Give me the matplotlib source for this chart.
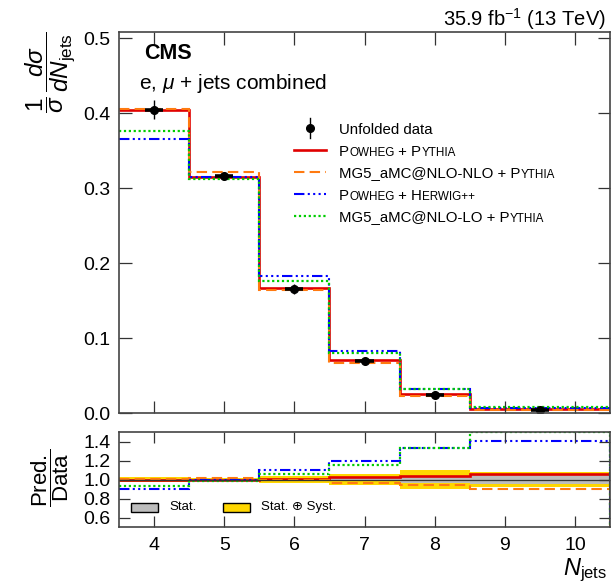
import numpy as np
import matplotlib
matplotlib.use("Agg")
import matplotlib.pyplot as plt
from matplotlib.patches import Rectangle

plt.rcParams['font.family'] = ['Liberation Sans', 'DejaVu Sans']
plt.rcParams['mathtext.fontset'] = 'custom'
plt.rcParams['mathtext.rm'] = 'Liberation Sans'
plt.rcParams['mathtext.it'] = 'Liberation Sans:italic'
plt.rcParams['mathtext.bf'] = 'Liberation Sans:bold'
plt.rcParams['mathtext.sf'] = 'Liberation Sans'

# ---------------- data ----------------
bin_edges = [3.5, 4.5, 5.5, 6.5, 7.5, 8.5, 10.5]
bin_centers = [4, 5, 6, 7, 8, 9.5]
data = [0.405, 0.317, 0.166, 0.0695, 0.0245, 0.0050]
stat_rel = [0.008, 0.006, 0.010, 0.015, 0.040, 0.045]
tot_rel = [0.030, 0.015, 0.040, 0.060, 0.100, 0.080]

powheg_pythia = [0.405, 0.3155, 0.167, 0.0712, 0.0255, 0.0053]
mg5_nlo_pythia = [0.4057, 0.3215, 0.165, 0.0667, 0.0232, 0.0045]
powheg_herwig = [0.3657, 0.3145, 0.1826, 0.0827, 0.0326, 0.00705]
mg5_lo_pythia = [0.3765, 0.312, 0.176, 0.0800, 0.0326, 0.0080]

xticks = [4, 5, 6, 7, 8, 9, 10]
main_yticks = [0.0, 0.1, 0.2, 0.3, 0.4, 0.5]
ratio_yticks = [0.6, 0.8, 1.0, 1.2, 1.4]

RED = '#e00000'
ORANGE = '#ff7a10'
BLUE = '#0000ff'
GREEN = '#00cc00'
YELLOW = '#ffd700'
GRAY = '#bdbdbd'

models = [
    (powheg_pythia, RED, '-', 1.9),
    (mg5_nlo_pythia, ORANGE, (0, (5, 2.5)), 1.5),
    (powheg_herwig, BLUE, (0, (5, 1.6, 1, 1.6, 1, 1.6, 1, 1.6)), 1.5),
    (mg5_lo_pythia, GREEN, (0, (1, 1.2)), 1.6),
]

W, H = 611, 586
fig = plt.figure(figsize=(W / 100, H / 100), dpi=100)
L, R = 119, 610
ax = fig.add_axes([L / W, 1 - 413.3 / H, (R - L) / W, (413.3 - 32) / H])
rax = fig.add_axes([L / W, 1 - 527 / H, (R - L) / W, (527 - 432) / H])

edges = np.array(bin_edges)
edges_ext = np.append(edges, edges[-1] + 1.0)   # histogram drops to zero after last edge
d = np.array(data)

# ---------------- main panel ----------------
for vals, c, ls, lw in models:
    ax.stairs(np.append(vals, 0.0), edges_ext, baseline=None, color=c, linestyle=ls, linewidth=lw)

err = d * np.array(tot_rel)
ax.errorbar(bin_centers, d, yerr=err, fmt='none', ecolor='black', elinewidth=1.0, capsize=0, zorder=5)
ax.hlines(d, np.array(bin_centers) - 0.13, np.array(bin_centers) + 0.13, color='black', lw=2.6, zorder=5)
ax.plot(bin_centers, d, 'o', color='black', ms=5.5, zorder=6)

ax.set_xlim(3.5, 10.5)
ax.set_ylim(0, 0.5084)
ax.set_xticks(xticks)
ax.set_xticklabels([])
ax.set_yticks(main_yticks)
ax.set_yticklabels([f"{t:.1f}" for t in main_yticks])

# ---------------- ratio panel ----------------
tot = np.array(tot_rel)
st = np.array(stat_rel)
rax.stairs(1 + tot, edges, baseline=1 - tot, fill=True, color=YELLOW, lw=0)
rax.stairs(1 + st, edges, baseline=1 - st, fill=True, color=GRAY, lw=0)
rax.axhline(1.0, color='#333333', lw=0.9)
for vals, c, ls, lw in models:
    r = np.array(vals) / d
    r = np.minimum(r, 1.5)
    rax.stairs(np.append(r, 0.0), edges_ext, baseline=None, color=c, linestyle=ls, linewidth=lw)

rax.set_xlim(3.5, 10.5)
rax.set_ylim(0.5, 1.5)
rax.set_xticks(xticks)
rax.set_xticklabels([str(t) for t in xticks])
rax.set_yticks(ratio_yticks)
rax.set_yticklabels([f"{t:.1f}" for t in ratio_yticks])

for a, tl in ((ax, 9), (rax, 8)):
    a.tick_params(direction='in', top=True, right=True, length=tl, width=0.9,
                  labelsize=14, pad=6, color='#333333')
    for s in a.spines.values():
        s.set_color('#444444')
        s.set_linewidth(1.2)
        s.set_zorder(10)
rax.tick_params(axis='x', pad=7)

# ---------------- texts ----------------
ax.text(0.051, 0.929, 'CMS', transform=ax.transAxes, fontsize=15.5, fontweight='bold', va='baseline')
ax.text(0.040, 0.8505, r'e, $\mu$ + jets combined', transform=ax.transAxes, fontsize=15, va='baseline')
fig.text(606 / W, 1 - 26 / H, r'35.9 fb$^{-1}$ (13 TeV)', fontsize=14.5, ha='right', va='baseline')

fig.text(50 / W, 1 - 32 / H, r'$\dfrac{1}{\sigma}\,\dfrac{d\sigma}{dN_{\mathrm{jets}}}$',
         rotation=90, ha='center', va='top', fontsize=17.5)
fig.text(50 / W, 1 - 478 / H, r'$\dfrac{\mathrm{Pred.}}{\mathrm{Data}}$',
         rotation=90, ha='center', va='center', fontsize=16)
fig.text(607 / W, 1 - 570 / H, r'$N_{\mathrm{jets}}$', ha='right', va='center', fontsize=17)

# ---------------- legend (main) ----------------
LEG_FS = 10.8
SC_FS = 8.4

def px2ax(px, py):
    return (px - L) / (R - L), (413.3 - py) / (413.3 - 32)

def sc_text(axis, x, yb, parts):
    """Small-caps style text: segments share one baseline (yb, axes fraction)."""
    first, _ = parts[0]
    t = axis.text(x, yb, first, transform=axis.transAxes, fontsize=LEG_FS, va='baseline', ha='left')
    prev = t
    for s, sm in parts[1:]:
        prev = axis.annotate(s, xy=(1, yb), xycoords=(prev, 'axes fraction'),
                             va='baseline', ha='left', fontsize=SC_FS if sm else LEG_FS)
    return t

rows_y = [128, 150, 172, 194, 216]
hx0, hx1 = px2ax(294, 0)[0], px2ax(326, 0)[0]
tx = px2ax(339, 0)[0]
base_off = 5.5  # px from row centre down to text baseline

y0 = px2ax(0, rows_y[0])[1]
ax.plot([(hx0 + hx1) / 2], [y0], 'o', color='black', ms=5.5, transform=ax.transAxes, clip_on=False)
ax.plot([(hx0 + hx1) / 2] * 2, [y0 - 0.025, y0 + 0.025], color='black', lw=1, transform=ax.transAxes)
ax.text(tx, px2ax(0, rows_y[0] + base_off)[1], 'Unfolded data', transform=ax.transAxes,
        fontsize=LEG_FS, va='baseline')

labels = [
    [('P', False), ('OWHEG', True), (' + P', False), ('YTHIA', True)],
    [('MG5_aMC@NLO-NLO + P', False), ('YTHIA', True)],
    [('P', False), ('OWHEG', True), (' + H', False), ('ERWIG++', True)],
    [('MG5_aMC@NLO-LO + P', False), ('YTHIA', True)],
]
for (vals, c, ls, lw), lab, ry in zip(models, labels, rows_y[1:]):
    yy = px2ax(0, ry)[1]
    ax.plot([hx0, hx1], [yy, yy], color=c, linestyle=ls, linewidth=lw, transform=ax.transAxes)
    sc_text(ax, tx, px2ax(0, ry + base_off)[1], lab)

# ---------------- legend (ratio) ----------------
def rpx(px, py):
    return (px - L) / (R - L), (527 - py) / (527 - 432)

bx, by = rpx(131, 512)
bw = 27 / (R - L)
bh = 9.5 / 95
rax.add_patch(Rectangle((bx, by), bw, bh, transform=rax.transAxes, facecolor=GRAY,
                        edgecolor='black', lw=1.0, clip_on=False, zorder=10))
rax.text(rpx(169, 0)[0], by + bh / 2, 'Stat.', transform=rax.transAxes, fontsize=9.5, va='center')
bx2 = rpx(223, 0)[0]
rax.add_patch(Rectangle((bx2, by), bw, bh, transform=rax.transAxes, facecolor=YELLOW,
                        edgecolor='black', lw=1.0, clip_on=False, zorder=10))
rax.text(rpx(261, 0)[0], by + bh / 2, 'Stat. \u2295 Syst.', transform=rax.transAxes, fontsize=9.5, va='center')

fig.savefig('out.png', dpi=100)
